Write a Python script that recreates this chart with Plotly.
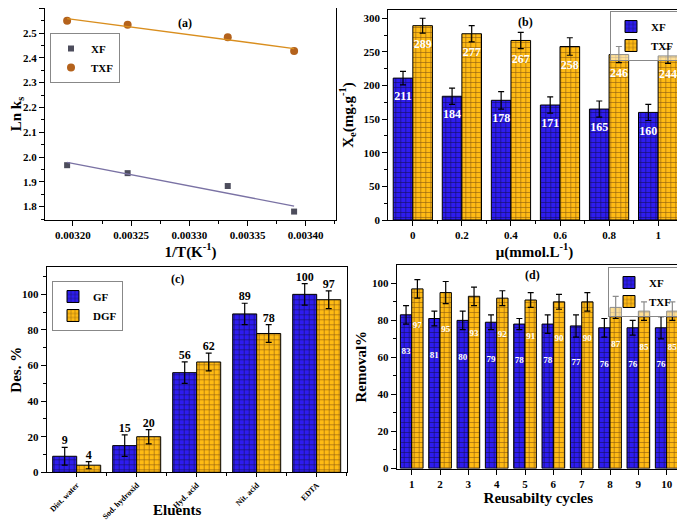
import numpy as np
import plotly.graph_objects as go

# ---------------- data ----------------
# (a) Arrhenius-type plot
invT = [0.003195, 0.003247, 0.003333, 0.003390]
lnk_XF = [1.967, 1.935, 1.883, 1.780]
lnk_TXF = [2.550, 2.533, 2.483, 2.428]

# (b) ionic strength
mu_labels = ["0", "0.2", "0.4", "0.6", "0.8", "1"]
xe_XF = [211, 184, 178, 171, 165, 160]
xe_XF_err = [10, 12, 13, 12, 12, 12]
xe_TXF = [289, 277, 267, 258, 246, 244]
xe_TXF_err = [11, 12, 12, 13, 12, 11]

# (c) desorption
eluents = ["Dist. water", "Sod. hydroxid", "Hyd. acid", "Nit. acid", "EDTA"]
des_GF = [9, 15, 56, 89, 100]
des_GF_err = [5, 6, 6, 6, 6]
des_DGF = [4, 20, 62, 78, 97]
des_DGF_err = [2, 4, 5, 5, 5]

# (d) reusability
cycles = [1, 2, 3, 4, 5, 6, 7, 8, 9, 10]
rem_XF = [83, 81, 80, 79, 78, 78, 77, 76, 76, 76]
rem_XF_err = [5, 4, 5, 4, 3, 5, 6, 5, 4, 6]
rem_TXF = [97, 95, 93, 92, 91, 90, 90, 87, 85, 85]
rem_TXF_err = [5, 6, 5, 4, 4, 4, 5, 6, 5, 5]

# ---------------- styling ----------------
FONT = "Liberation Serif"
BLUE = "#2e1cf0"
BLUE_LINE = "#14105a"
ORANGE = "#ffbb14"
ORANGE_LINE = "#8a5a12"
W, H = 685, 521
OFF = 8  # page body margin


def xp(X):
    return (X - OFF) / W


def yp(Y):
    return min(1.0, 1 - (Y - OFF) / H)


def xdom(l, r):
    return [xp(l), xp(r)]


def ydom(b, t):
    return [yp(b), yp(t)]


def pat(bg, fg):
    return dict(shape="+", size=5, solidity=0.22, bgcolor=bg, fgcolor=fg, fillmode="replace")


fig = go.Figure()

# ---------- (a) ----------
xa = np.array(invT)
for name, vals, sym, mcol, lcol, msize in [
    ("XF", lnk_XF, "square", "#4d4d5c", "#7a72a4", 6),
    ("TXF", lnk_TXF, "circle", "#b4621c", "#d98e1e", 8),
]:
    fig.add_trace(go.Scatter(x=invT, y=vals, mode="markers", name=name,
                             marker=dict(symbol=sym, color=mcol, size=msize),
                             xaxis="x", yaxis="y", legend="legend"))
    k, b = np.polyfit(xa, np.array(vals), 1)
    xs = np.array([xa.min(), xa.max()])
    fig.add_trace(go.Scatter(x=xs, y=k * xs + b, mode="lines", showlegend=False,
                             line=dict(color=lcol, width=1.4), xaxis="x", yaxis="y"))

# ---------- grouped bar helper ----------
BW = 0.4


def bars(idx, v1, e1, v2, e2, n1, n2, xa_, ya_, leg):
    fig.add_trace(go.Bar(x=idx, y=v1, name=n1, width=BW, offset=-BW,
                         marker=dict(color=BLUE, line=dict(color="black", width=1),
                                     pattern=pat(BLUE, BLUE_LINE)),
                         error_y=dict(type="data", array=e1, color="black", thickness=1.2, width=3),
                         xaxis=xa_, yaxis=ya_, legend=leg))
    fig.add_trace(go.Bar(x=idx, y=v2, name=n2, width=BW, offset=0,
                         marker=dict(color=ORANGE, line=dict(color="black", width=1),
                                     pattern=pat(ORANGE, ORANGE_LINE)),
                         error_y=dict(type="data", array=e2, color="black", thickness=1.2, width=3),
                         xaxis=xa_, yaxis=ya_, legend=leg))


# ---------- (b) ----------
ib = np.arange(len(mu_labels))
bars(ib, xe_XF, xe_XF_err, xe_TXF, xe_TXF_err, "XF", "TXF", "x2", "y2", "legend2")
fig.add_trace(go.Scatter(x=np.concatenate([ib - BW / 2, ib + BW / 2]),
                         y=np.concatenate([np.array(xe_XF) - 28.5, np.array(xe_TXF) - 28.5]),
                         text=[str(v) for v in xe_XF + xe_TXF], mode="text", showlegend=False,
                         textfont=dict(family=FONT, size=12, color="white", weight="bold"),
                         xaxis="x2", yaxis="y2"))

# ---------- (c) ----------
ic = np.arange(len(eluents))
bars(ic, des_GF, des_GF_err, des_DGF, des_DGF_err, "GF", "DGF", "x3", "y3", "legend3")
fig.add_trace(go.Scatter(x=np.concatenate([ic - BW / 2, ic + BW / 2]),
                         y=np.concatenate([np.array(des_GF) + np.array(des_GF_err),
                                           np.array(des_DGF) + np.array(des_DGF_err)]),
                         text=[str(v) for v in des_GF + des_DGF], mode="text",
                         textposition="top center", showlegend=False,
                         textfont=dict(family=FONT, size=12, color="black", weight="bold"),
                         xaxis="x3", yaxis="y3"))

# ---------- (d) ----------
idd = np.array(cycles)
bars(idd, rem_XF, rem_XF_err, rem_TXF, rem_TXF_err, "XF", "TXF", "x4", "y4", "legend4")
fig.add_trace(go.Scatter(x=np.concatenate([idd - BW / 2, idd + BW / 2]),
                         y=np.concatenate([np.array(rem_XF) - 20, np.array(rem_TXF) - 20]),
                         text=[str(v) for v in rem_XF + rem_TXF], mode="text", showlegend=False,
                         textfont=dict(family=FONT, size=9, color="white", weight="bold"),
                         xaxis="x4", yaxis="y4"))

# ---------------- axes ----------------
tickf = dict(family=FONT, size=11, color="black", weight="bold")
titf = dict(family=FONT, size=15, color="black", weight="bold")


def ax(**kw):
    d = dict(showline=True, mirror=True, linecolor="black", linewidth=1.2,
             ticks="outside", ticklen=5, tickwidth=1.2, tickcolor="black",
             showgrid=False, zeroline=False, tickfont=tickf, automargin=False)
    d.update(kw)
    return d


layout = dict(
    width=W, height=H, margin=dict(l=0, r=0, t=0, b=0),
    paper_bgcolor="white", plot_bgcolor="white",
    barmode="overlay",
    # (a)
    xaxis=ax(domain=xdom(45, 336), anchor="y", range=[0.003176, 0.003426],
             tickvals=[0.0032, 0.00325, 0.0033, 0.00335, 0.0034], tickformat=".5f",
             minor=dict(ticks="outside", ticklen=3, dtick=0.000025, tickcolor="black"),
             title=dict(text="1/T(K<sup>-1</sup>)", font=titf, standoff=4)),
    yaxis=ax(domain=ydom(220, 8), anchor="x", range=[1.746, 2.601], dtick=0.1, tick0=1.8,
             tickformat=".1f",
             minor=dict(ticks="outside", ticklen=3, dtick=0.05, tickcolor="black"),
             title=dict(text="Ln k<sub>s</sub>", font=titf, standoff=3)),
    # (b)
    xaxis2=ax(domain=xdom(388.3, 680.7), anchor="y2", range=[-0.5, 5.46],
              tickvals=list(ib), ticktext=mu_labels,
              minor=dict(ticks="outside", ticklen=3, tickvals=list(ib + 0.5), tickcolor="black"),
              title=dict(text="μ(mmol.L<sup>-1</sup>)", font=titf, standoff=4)),
    yaxis2=ax(domain=ydom(220, 10), anchor="x2", range=[0, 312.3], dtick=50,
              minor=dict(ticks="outside", ticklen=3, dtick=25, tickcolor="black"),
              title=dict(text="X<sub>e</sub>(mg.g<sup>-1</sup>)", font=titf, standoff=6)),
    # (c)
    xaxis3=ax(domain=xdom(46.7, 346.7), anchor="y3", range=[-0.5, 4.5],
              tickvals=list(ic), ticktext=eluents, tickangle=-45, ticklen=4,
              tickfont=dict(family=FONT, size=8, color="black", weight="bold"),
              minor=dict(ticks="outside", ticklen=3, tickvals=list(ic + 0.5), tickcolor="black")),
    yaxis3=ax(domain=ydom(472.3, 267.3), anchor="x3", range=[0, 115.2], dtick=20,
              minor=dict(ticks="outside", ticklen=3, dtick=10, tickcolor="black"),
              title=dict(text="Des. %", font=titf, standoff=5)),
    # (d)
    xaxis4=ax(domain=xdom(396.7, 680), anchor="y4", range=[0.47, 10.47],
              tickvals=cycles,
              title=dict(text="Reusabilty cycles", font=titf, standoff=3)),
    yaxis4=ax(domain=ydom(468.5, 265), anchor="x4", range=[0, 109.9], dtick=20,
              minor=dict(ticks="outside", ticklen=3, dtick=10, tickcolor="black"),
              title=dict(text="Removal%", font=titf, standoff=1)),
)

legfont = dict(family=FONT, size=11, color="black", weight="bold")
leg_common = dict(font=legfont, bordercolor="#888888", borderwidth=1,
                  itemwidth=30, tracegroupgap=0)
layout["legend"] = dict(x=xp(50), y=yp(33), xanchor="left", yanchor="top",
                        bgcolor="white", **leg_common)
layout["legend2"] = dict(x=xp(680), y=yp(11), xanchor="right", yanchor="top",
                         bgcolor="rgba(255,255,255,0.55)", **leg_common)
layout["legend3"] = dict(x=xp(52), y=yp(281), xanchor="left", yanchor="top",
                         bgcolor="white", **leg_common)
layout["legend4"] = dict(x=xp(678), y=yp(267), xanchor="right", yanchor="top",
                         bgcolor="rgba(255,255,255,0.55)", **leg_common)

panel_f = dict(family=FONT, size=12, color="black", weight="bold")


def note(text, X, Y, font):
    return dict(text=text, x=xp(X), y=yp(Y), xref="paper", yref="paper", showarrow=False,
                xanchor="center", yanchor="middle", font=font)


layout["annotations"] = [
    note("(a)", 185, 23, panel_f),
    note("(b)", 525, 22, panel_f),
    note("(c)", 177, 279, panel_f),
    note("(d)", 532, 275, panel_f),
    note("Eluents", 177, 510, titf),
]

fig.update_layout(**layout)
fig.write_html("out.html")
